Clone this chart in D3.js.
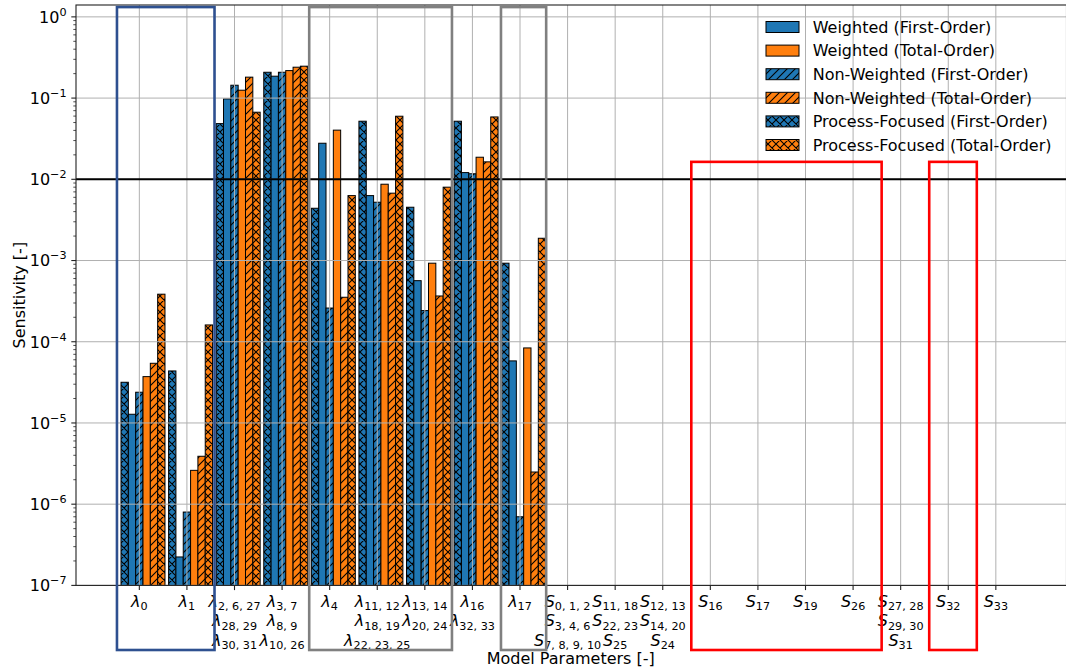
<!DOCTYPE html>
<html>
<head>
<meta charset="utf-8">
<script src="https://cdn.jsdelivr.net/npm/d3@7"></script>
<style>
  body { margin: 0; background: #fff; }
  svg { display: block; }
  text { font-family: "DejaVu Sans", sans-serif; fill: #000; }
</style>
</head>
<body>
<svg id="chart" width="1066" height="672"></svg>
<script>
// ---- data ---------------------------------------------------------------
// Tick labels: each tick holds one or more lines, each line = [symbol, subscript]
const tickLabels = [
  [["λ", "0"]],
  [["λ", "1"]],
  [["λ", "2, 6, 27"], ["λ", "28, 29"], ["λ", "30, 31"]],
  [["λ", "3, 7"], ["λ", "8, 9"], ["λ", "10, 26"]],
  [["λ", "4"]],
  [["λ", "11, 12"], ["λ", "18, 19"], ["λ", "22, 23, 25"]],
  [["λ", "13, 14"], ["λ", "20, 24"]],
  [["λ", "16"], ["λ", "32, 33"]],
  [["λ", "17"]],
  [["S", "0, 1, 2"], ["S", "3, 4, 6"], ["S", "7, 8, 9, 10"]],
  [["S", "11, 18"], ["S", "22, 23"], ["S", "25"]],
  [["S", "12, 13"], ["S", "14, 20"], ["S", "24"]],
  [["S", "16"]],
  [["S", "17"]],
  [["S", "19"]],
  [["S", "26"]],
  [["S", "27, 28"], ["S", "29, 30"], ["S", "31"]],
  [["S", "32"]],
  [["S", "33"]]
];

// Sensitivity indices per parameter group (null = nothing above the axis floor)
const processFocusedFirst = [3.17e-5, 4.37e-5, 0.0485, 0.208, 0.0044, 0.0519, 0.00453, 0.0519, 9.27e-4,
  null, null, null, null, null, null, null, null, null, null];
const weightedFirst = [1.28e-5, 2.24e-7, 0.0977, 0.186, 0.0278, 0.0063, 5.65e-4, 0.0121, 5.81e-5,
  null, null, null, null, null, null, null, null, null, null];
const nonWeightedFirst = [2.39e-5, 8.0e-7, 0.144, 0.208, 2.6e-4, 0.00522, 2.42e-4, 0.0117, 7.0e-7,
  null, null, null, null, null, null, null, null, null, null];
const weightedTotal = [3.72e-5, 2.61e-6, 0.125, 0.218, 0.0403, 0.0087, 9.27e-4, 0.0187, 8.39e-5,
  null, null, null, null, null, null, null, null, null, null];
const nonWeightedTotal = [5.43e-5, 3.89e-6, 0.181, 0.240, 3.53e-4, 0.00675, 3.66e-4, 0.0164, 2.49e-6,
  null, null, null, null, null, null, null, null, null, null];
const processFocusedTotal = [3.85e-4, 1.61e-4, 0.067, 0.247, 0.0063, 0.0598, 0.0080, 0.0586, 1.88e-3,
  null, null, null, null, null, null, null, null, null, null];

const yTickExponents = [0, -1, -2, -3, -4, -5, -6, -7];
const threshold = 1e-2;

// ---- series styling (bar order within a group, left to right) ----------
const blue = "#1f77b4", orange = "#ff7f0e";
const series = [
  { label: "Process-Focused (First-Order)", values: processFocusedFirst, color: blue, hatch: "cross" },
  { label: "Weighted (First-Order)", values: weightedFirst, color: blue, hatch: null },
  { label: "Non-Weighted (First-Order)", values: nonWeightedFirst, color: blue, hatch: "diag" },
  { label: "Weighted (Total-Order)", values: weightedTotal, color: orange, hatch: null },
  { label: "Non-Weighted (Total-Order)", values: nonWeightedTotal, color: orange, hatch: "diag" },
  { label: "Process-Focused (Total-Order)", values: processFocusedTotal, color: orange, hatch: "cross" }
];
const legendOrder = [1, 3, 2, 4, 0, 5];

// Highlight frames around parameter groups (x in tick-index units)
const frames = [
  { x0: -0.47, x1: 1.58, top: 1.32, color: "#2e5090" },
  { x0: 3.57, x1: 6.57, top: 1.32, color: "#808080" },
  { x0: 7.60, x1: 8.55, top: 1.32, color: "#808080" },
  { x0: 11.60, x1: 15.60, top: 0.0164, color: "#ff0000" },
  { x0: 16.60, x1: 17.60, top: 0.0164, color: "#ff0000" }
];

// ---- layout -------------------------------------------------------------
const L = 76, R = 1066.5, T = 5, B = 585.4;
const barW = 0.154;
const frameBottom = 650;

const svg = d3.select("#chart");
const defs = svg.append("defs");

const x = d3.scaleLinear().domain([-1.331, 19.485]).range([L, R]);
const y = d3.scaleLog().domain([1e-7, 1.4]).range([B, T]);

// hatch patterns
function makePattern(id, color, kind) {
  const s = 8;
  const p = defs.append("pattern").attr("id", id)
    .attr("patternUnits", "userSpaceOnUse").attr("width", s).attr("height", s);
  p.append("rect").attr("width", s).attr("height", s).attr("fill", color);
  let d = `M0,${s} L${s},0 M-2,2 L2,-2 M${s - 2},${s + 2} L${s + 2},${s - 2}`;
  if (kind === "cross") d += ` M0,0 L${s},${s} M-2,${s - 2} L2,${s + 2} M${s - 2},-2 L${s + 2},2`;
  p.append("path").attr("d", d).attr("stroke", "#000").attr("stroke-width", 1.1).attr("fill", "none");
}
function fillFor(s) {
  if (!s.hatch) return s.color;
  const id = `h-${s.hatch}-${s.color.slice(1)}`;
  if (defs.select("#" + id).empty()) makePattern(id, s.color, s.hatch);
  return `url(#${id})`;
}

svg.append("clipPath").attr("id", "plotClip")
  .append("rect").attr("x", L).attr("y", T).attr("width", R - L).attr("height", B - T);

// ---- bars ---------------------------------------------------------------
const barLayer = svg.append("g").attr("clip-path", "url(#plotClip)");
series.forEach((s, si) => {
  const fill = fillFor(s);
  barLayer.append("g").selectAll("rect")
    .data(s.values.map((v, i) => ({ v, i })).filter(d => d.v != null))
    .join("rect")
    .attr("x", d => x(d.i + (si - 2.5) * barW))
    .attr("width", x(barW) - x(0))
    .attr("y", d => y(d.v))
    .attr("height", d => y(1e-7) - y(d.v) + 2)
    .attr("fill", fill)
    .attr("stroke", "#000")
    .attr("stroke-width", 1);
});

// ---- grid ---------------------------------------------------------------
const grid = svg.append("g").attr("stroke", "#b0b0b0").attr("stroke-width", 1);
tickLabels.forEach((_, i) => {
  grid.append("line").attr("x1", x(i)).attr("x2", x(i)).attr("y1", T).attr("y2", B);
});
yTickExponents.forEach(e => {
  const yy = y(Math.pow(10, e));
  grid.append("line").attr("x1", L).attr("x2", R).attr("y1", yy).attr("y2", yy);
});

// threshold line
svg.append("line").attr("x1", L).attr("x2", R)
  .attr("y1", y(threshold)).attr("y2", y(threshold))
  .attr("stroke", "#000").attr("stroke-width", 2);

// ---- axes frame and ticks ----------------------------------------------
svg.append("rect").attr("x", L).attr("y", T).attr("width", R - L).attr("height", B - T)
  .attr("fill", "none").attr("stroke", "#222").attr("stroke-width", 1.1);

const ticks = svg.append("g").attr("stroke", "#222");
tickLabels.forEach((_, i) => {
  ticks.append("line").attr("x1", x(i)).attr("x2", x(i)).attr("y1", B).attr("y2", B + 4.7).attr("stroke-width", 1.1);
});
yTickExponents.forEach(e => {
  const yy = y(Math.pow(10, e));
  ticks.append("line").attr("x1", L - 4.7).attr("x2", L).attr("y1", yy).attr("y2", yy).attr("stroke-width", 1.1);
  if (e < 0) {
    for (let k = 2; k <= 9; k++) {
      const ym = y(k * Math.pow(10, e));
      ticks.append("line").attr("x1", L - 2.7).attr("x2", L).attr("y1", ym).attr("y2", ym).attr("stroke-width", 0.8);
    }
  }
});

// y tick labels (10^e)
yTickExponents.forEach(e => {
  const t = svg.append("text")
    .attr("x", L - 9.4).attr("y", y(Math.pow(10, e)) + 5.8)
    .attr("text-anchor", "end").style("font-size", "16px");
  t.append("tspan").text("10");
  t.append("tspan").attr("dy", -7).style("font-size", "11.2px")
    .text(e === 0 ? "0" : "\u2212" + Math.abs(e));
});

// x tick labels (multi-line, symbol with subscript)
tickLabels.forEach((lines, i) => {
  lines.forEach((ln, li) => {
    const t = svg.append("text")
      .attr("x", x(i)).attr("y", 607 + li * 19.4)
      .attr("text-anchor", "middle").style("font-size", "16px");
    t.append("tspan").style("font-style", "italic").text(ln[0]);
    t.append("tspan").attr("dy", 3.2).style("font-size", "11.2px").text(ln[1]);
  });
});

// axis titles
svg.append("text").attr("x", (L + R) / 2 - 0.5).attr("y", 664)
  .attr("text-anchor", "middle").style("font-size", "16px").text("Model Parameters [-]");
svg.append("text").attr("transform", `translate(25,${(T + B) / 2}) rotate(-90)`)
  .attr("text-anchor", "middle").style("font-size", "16px").text("Sensitivity [-]");

// ---- highlight frames ---------------------------------------------------
svg.append("g").selectAll("rect").data(frames).join("rect")
  .attr("x", d => x(d.x0)).attr("y", d => y(d.top))
  .attr("width", d => x(d.x1) - x(d.x0))
  .attr("height", d => frameBottom - y(d.top))
  .attr("fill", "none").attr("stroke", d => d.color).attr("stroke-width", 2.6);

// ---- legend -------------------------------------------------------------
const lg = svg.append("g");
legendOrder.forEach((si, r) => {
  const s = series[si];
  const cy = 27 + r * 23.6;
  lg.append("rect").attr("x", 766).attr("y", cy - 5.5).attr("width", 33).attr("height", 11)
    .attr("fill", fillFor(s)).attr("stroke", "#000").attr("stroke-width", 1);
  lg.append("text").attr("x", 812.7).attr("y", cy + 5.8)
    .style("font-size", "16px").text(s.label);
});
</script>
</body>
</html>
